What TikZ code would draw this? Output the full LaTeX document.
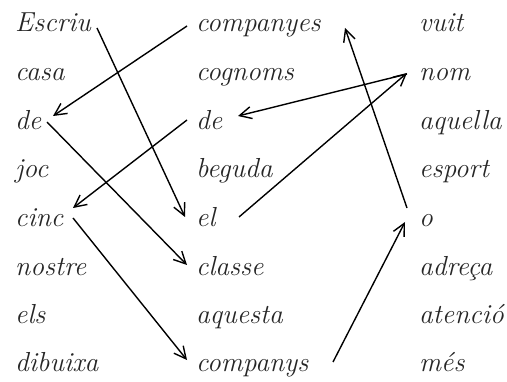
\documentclass[tikz,border=0pt]{standalone}
\usetikzlibrary{arrows.meta,calc}
\begin{document}
\begin{tikzpicture}[x=1pt,y=1pt,
  word/.style={anchor=base west,inner sep=0pt,text=black!85,font=\fontsize{27.5}{27.5}\selectfont\itshape},
  link/.style={line width=1.4pt,-{Straight Barb[length=12pt,width=12pt,line width=1.4pt]}}]
\useasboundingbox (0,0) rectangle (507,381);
% left column
\node[word] (escriu) at (15,349) {Escriu};
\node[word] (casa) at (15,300) {casa};
\node[word] (deL) at (15,251) {de};
\node[word] (joc) at (15,203) {joc};
\node[word] (cinc) at (15,154) {cinc};
\node[word] (nostre) at (15,106) {nostre};
\node[word] (els) at (15,58) {els};
\node[word] (dibuixa) at (15,10) {dibuixa};
% middle column
\node[word] (companyes) at (196,349) {companyes};
\node[word] (cognoms) at (196,300) {cognoms};
\node[word] (deM) at (196,251) {de};
\node[word] (beguda) at (196,203) {beguda};
\node[word] (el) at (196,154) {el};
\node[word] (classe) at (196,106) {classe};
\node[word] (aquesta) at (196,58) {aquesta};
\node[word] (companys) at (196,10) {companys};
% right column
\node[word] (vuit) at (419,349) {vuit};
\node[word] (nom) at (419,300) {nom};
\node[word] (aquella) at (419,251) {aquella};
\node[word] (esport) at (419,203) {esport};
\node[word] (o) at (419,154) {o};
\node[word] (adreca) at (419,106) {adreça};
\node[word] (atencio) at (419,58) {atenció};
\node[word] (mes) at (419,10) {més};
% connectors
\draw[link] ($(escriu.base west)+(82,4)$) -- ($(el.base west)+(-11,10)$);
\draw[link] ($(companyes.base west)+(-9,6)$) -- ($(deL.base west)+(38,14)$);
\draw[link] ($(deL.base west)+(32,8)$) -- ($(classe.base west)+(-9,10)$);
\draw[link] ($(deM.base west)+(-9,10)$) -- ($(cinc.base west)+(58,19)$);
\draw[link] ($(nom.base west)+(-12,7)$) -- ($(deM.base west)+(42,14)$);
\draw[link] ($(el.base west)+(43,10)$) -- ($(nom.base west)+(-12,8)$);
\draw[link] ($(o.base west)+(-12,19)$) -- ($(companyes.base west)+(149,4)$);
\draw[link] ($(cinc.base west)+(58,9)$) -- ($(companys.base west)+(-9,11)$);
\draw[link] ($(companys.base west)+(137,9)$) -- ($(o.base west)+(-14,5)$);
\end{tikzpicture}
\end{document}
